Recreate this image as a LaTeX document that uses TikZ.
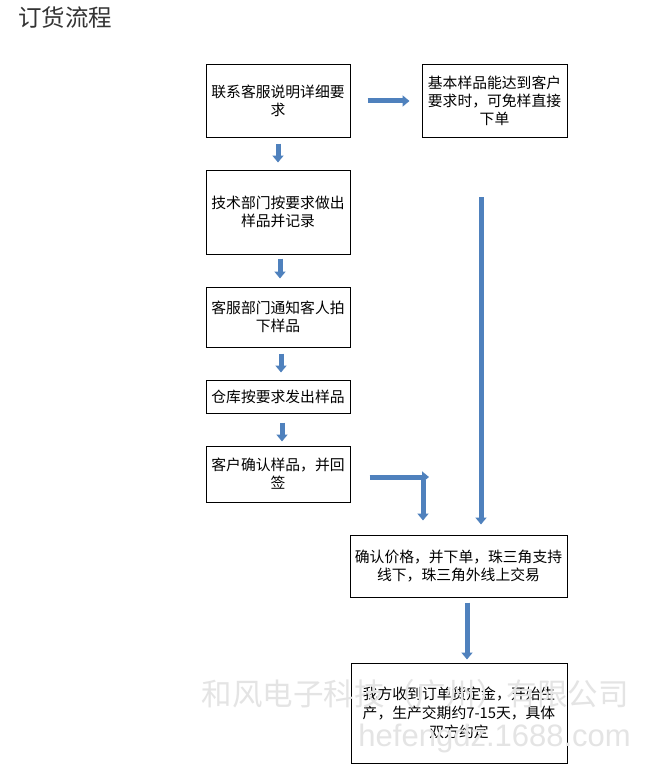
\documentclass[tikz,border=0pt]{standalone}
\usepackage{fontspec}
\setmainfont{Noto Sans CJK SC}
\newfontfamily\latinwm{Liberation Sans}
\usetikzlibrary{arrows.meta}
\definecolor{arrowblue}{HTML}{4F81BD}
\definecolor{wmgray}{HTML}{E4E4E4}
\tikzset{
  box/.style={draw=black, line width=1pt, fill=white, inner sep=0pt, align=center,
    font=\fontsize{14.8}{18}\selectfont},
  blk/.style={draw=arrowblue, line width=5pt,
    -{Triangle[width=11pt,length=7pt]}},
}
\begin{document}
\begin{tikzpicture}[x=1pt,y=-1pt]
\useasboundingbox[fill=white] (0,0) rectangle (664,781);
\node[font=\fontsize{23.5}{25}\selectfont, text=black!80, anchor=west, inner sep=0pt] (title) at (18,18) {订货流程};

\node[box, minimum width=144pt, minimum height=72pt] (b1) at (278,101) {联系客服说明详细要\\求};
\node[box, minimum width=145pt, minimum height=72pt] (b2) at (494.5,101) {基本样品能达到客户\\要求时，可免样直接\\下单};
\node[box, minimum width=144pt, minimum height=84pt] (b3) at (278,212) {技术部门按要求做出\\样品并记录};
\node[box, minimum width=144pt, minimum height=60pt] (b4) at (278,317) {客服部门通知客人拍\\下样品};
\node[box, minimum width=144pt, minimum height=33pt] (b5) at (278,396.5) {仓库按要求发出样品};
\node[box, minimum width=144pt, minimum height=56pt] (b6) at (278,474) {客户确认样品，并回\\签};
\node[box, minimum width=217pt, minimum height=62pt] (b7) at (458.5,566) {确认价格，并下单，珠三角支持\\线下，珠三角外线上交易};
\node[box, minimum width=216pt, minimum height=100pt, font=\fontsize{14.8}{19}\selectfont] (b8) at (459,713) {我方收到订单货定金，开始生\\产，生产交期约7-15天，具体\\双方约定};

% connectors
\draw[blk, shorten <=17pt, shorten >=12pt] (b1) -- (b2);
\draw[blk, shorten <=6pt, shorten >=7pt] (b1) -- (b3);
\draw[blk, shorten <=4pt, shorten >=8pt] (b3.south -| 280,0) -- (b4.north -| 280,0);
\draw[blk, shorten <=6pt, shorten >=7pt] (b4.south -| 281,0) -- (b5.north -| 281,0);
\draw[blk, shorten <=9pt, shorten >=4pt] (b5.south -| 282,0) -- (b6.north -| 282,0);

\coordinate (s1) at (481,197);
\draw[blk, shorten >=10pt] (s1) -- (s1 |- b7.north);

\coordinate (e1) at (423,477);
\draw[blk, shorten <=19pt] (b6.east |- e1) -- ([xshift=6pt]e1);
\draw[blk, shorten >=14pt] ([yshift=-2.5pt]e1) -- (e1 |- b7.north);

\coordinate (c78) at (467,0);
\draw[blk, shorten <=5pt, shorten >=3pt] (b7.south -| c78) -- (b8.north -| c78);

% watermark
\node[text=wmgray, font=\fontsize{30.5}{32}\selectfont, inner sep=0pt] (wm1) at (415,694) {和风电子科技（广州）有限公司};
\node[text=wmgray, font=\latinwm\fontsize{31}{32}\selectfont, inner sep=0pt, anchor=east] (wm2) at (631,738) {hefengdz.1688.com};
\end{tikzpicture}
\end{document}
